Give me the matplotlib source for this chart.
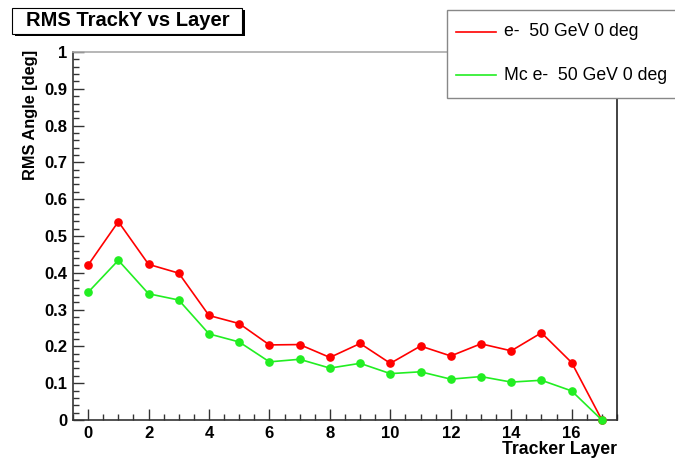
import numpy as np
import matplotlib.pyplot as plt
from matplotlib.patches import Rectangle
from matplotlib.lines import Line2D
from matplotlib.ticker import MultipleLocator

plt.rcParams['font.family'] = ['Liberation Sans', 'DejaVu Sans']

# Data
layers = np.arange(18)
rms_data = [0.421, 0.539, 0.423, 0.399, 0.284, 0.262, 0.204, 0.205, 0.170,
            0.208, 0.154, 0.201, 0.174, 0.207, 0.188, 0.237, 0.156, 0.0]
rms_mc = [0.347, 0.434, 0.343, 0.326, 0.234, 0.212, 0.158, 0.165, 0.141,
          0.154, 0.126, 0.131, 0.111, 0.118, 0.103, 0.108, 0.079, 0.0]
labels = ["e-  50 GeV 0 deg", "Mc e-  50 GeV 0 deg"]
colors = ["#ff0000", "#22ee22"]

W, H = 675, 461
fig = plt.figure(figsize=(W / 100, H / 100), dpi=100)

def fx(px):
    return px / W

def fy(py):
    return 1 - py / H

# Axes frame
ax = fig.add_axes([fx(73), fy(420), fx(617) - fx(73), fy(52) - fy(420)])
for s, c in zip([rms_data, rms_mc], colors):
    ax.plot(layers, s, color=c, lw=1.2, marker='o', ms=5.2, mec=c, mfc=c,
            clip_on=False, zorder=3)

ax.set_xlim(-0.5, 17.5)
ax.set_ylim(0, 1)
ax.xaxis.set_major_locator(MultipleLocator(2))
ax.xaxis.set_minor_locator(MultipleLocator(0.5))
ax.yaxis.set_major_locator(MultipleLocator(0.1))
ax.yaxis.set_minor_locator(MultipleLocator(0.02))
ax.set_xticks(np.arange(0, 17, 2))
ax.set_yticks(np.round(np.arange(0, 1.01, 0.1), 1))
ax.set_yticklabels(["0"] + ["%.1f" % v for v in np.arange(0.1, 0.95, 0.1)] + ["1"])

ax.tick_params(which='both', direction='in', top=False, right=False, color='#333333')
ax.tick_params(which='major', length=8, width=1, labelsize=12, pad=4)
ax.tick_params(which='minor', length=4, width=1)
for lab in ax.get_xticklabels() + ax.get_yticklabels():
    lab.set_fontweight('bold')

ax.spines['top'].set_color('#aaaaaa')
ax.spines['right'].set_color('#222222')
ax.spines['left'].set_color('#333333')
ax.spines['bottom'].set_color('#333333')
for sp in ax.spines.values():
    sp.set_linewidth(1.2)

# Axis titles
fig.text(fx(617), fy(449), "Tracker Layer", ha='right', va='center',
         fontsize=12.7, fontweight='bold')
fig.text(fx(30), fy(50), "RMS Angle [deg]", ha='center', va='top',
         rotation=90, fontsize=11.8, fontweight='bold')

# Title box with shadow
fig.patches.append(Rectangle((fx(15), fy(36)), fx(242) - fx(12), fy(8) - fy(34),
                             transform=fig.transFigure, facecolor='black',
                             edgecolor='none', zorder=5))
fig.patches.append(Rectangle((fx(12), fy(34)), fx(242) - fx(12), fy(8) - fy(34),
                             transform=fig.transFigure, facecolor='white',
                             edgecolor='black', lw=0.8, zorder=6))
fig.text(fx(128), fy(21), "RMS TrackY vs Layer", ha='center', va='center',
         fontsize=14.5, fontweight='bold', zorder=7)

# Legend box
fig.patches.append(Rectangle((fx(447), fy(98)), fx(240), fy(10) - fy(98),
                             transform=fig.transFigure, facecolor='white',
                             edgecolor='#888888', lw=1.0, zorder=5))
for i, (lab, c) in enumerate(zip(labels, colors)):
    yy = fy(32 + 43 * i)
    fig.add_artist(Line2D([fx(456), fx(496)], [yy, yy], color=c, lw=1.2,
                          transform=fig.transFigure, zorder=6))
    fig.text(fx(504), yy, lab, ha='left', va='center', fontsize=12.7, zorder=7)

fig.savefig("out.png", dpi=100)
